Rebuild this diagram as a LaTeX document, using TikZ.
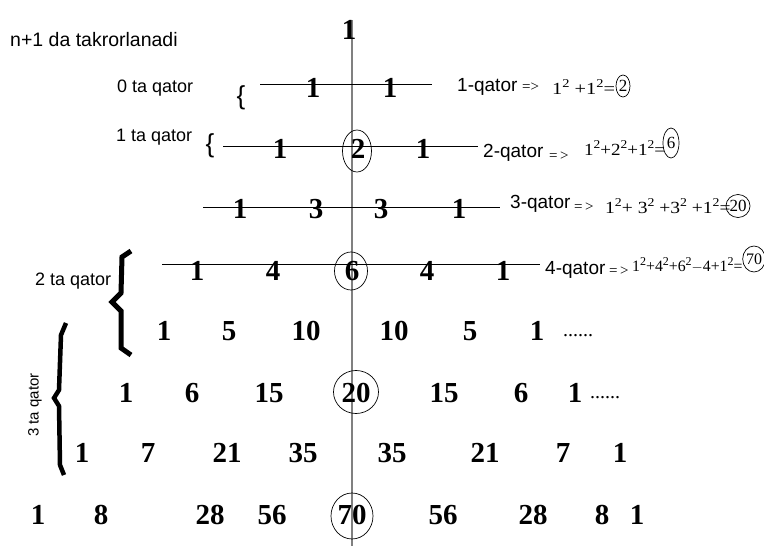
\documentclass[tikz,border=0pt]{standalone}
\usepackage{fontspec}
\setmainfont{Liberation Serif}
\newfontfamily\sansf{Liberation Sans}
\usetikzlibrary{shapes.geometric}
\newcommand\sqtwo{\raisebox{0.38em}{\fontsize{12}{12}\selectfont 2}}
\begin{document}
\begin{tikzpicture}[x=1pt,y=-1pt,
  num/.style={font=\bfseries\fontsize{29}{29}\selectfont, inner sep=0pt},
  lab/.style={font=\sansf\fontsize{18}{18}\selectfont, inner sep=0pt},
  qlab/.style={font=\sansf\fontsize{19}{19}\selectfont, inner sep=0pt, anchor=west},
  arr/.style={font=\fontsize{15}{15}\selectfont, inner sep=0pt, anchor=west},
  frm/.style={font=\fontsize{17}{17}\selectfont, inner sep=0pt, anchor=west},
  ring/.style={draw, ellipse, inner sep=0pt, line width=0.7pt},
  rowline/.style={draw, line width=1pt},
  bigbrace/.style={draw, line width=5pt, line join=miter},
  dots/.style={font=\fontsize{20}{20}\selectfont, inner sep=0pt, anchor=west}]
\useasboundingbox (0,0) rectangle (764,546);
% vertical axis
\coordinate (vt) at (352,20);
\coordinate (vb) at (352,546);
\draw[gray, line width=1.4pt] (vt) -- (vb);
% horizontal lines
\coordinate (h1a) at (260,84); \coordinate (h1b) at (432,84);
\coordinate (h2a) at (223,146); \coordinate (h2b) at (478,146);
\coordinate (h3a) at (203,207); \coordinate (h3b) at (500,207);
\coordinate (h4a) at (162,264); \coordinate (h4b) at (540,264);
\draw[rowline] (h1a) -- (h1b);
\draw[rowline] (h2a) -- (h2b);
\draw[rowline] (h3a) -- (h3b);
\draw[rowline] (h4a) -- (h4b);
% numbers
\node[num] (r0c1) at (349,30) {1};
\foreach \x/\t [count=\i] in {313/1,390/1} \node[num] (r1c\i) at (\x,88) {\t};
\foreach \x/\t [count=\i] in {280/1,358/2,423/1} \node[num] (r2c\i) at (\x,149) {\t};
\foreach \x/\t [count=\i] in {240/1,316/3,381/3,459/1} \node[num] (r3c\i) at (\x,209) {\t};
\foreach \x/\t [count=\i] in {197/1,273/4,352/6,427/4,503/1} \node[num] (r4c\i) at (\x,271) {\t};
\foreach \x/\t [count=\i] in {164/1,229/5,306/10,394/10,470/5,537/1} \node[num] (r5c\i) at (\x,331) {\t};
\foreach \x/\t [count=\i] in {126/1,192/6,269/15,356/20,444/15,521/6,575/1} \node[num] (r6c\i) at (\x,393) {\t};
\foreach \x/\t [count=\i] in {82/1,148/7,227/21,303/35,392/35,485/21,563/7,620/1} \node[num] (r7c\i) at (\x,453) {\t};
\foreach \x/\t [count=\i] in {38/1,101/8,210/28,272/56,352/70,443/56,533/28,602/8,637/1} \node[num] (r8c\i) at (\x,515) {\t};
\node[dots] (d5) at (563,336) {......};
\node[dots] (d6) at (590,398) {......};
% rings in triangle
\node[ring, minimum width=29pt, minimum height=42pt] (o2) at (357,151) {};
\node[ring, minimum width=33pt, minimum height=38pt] (o6) at (351,271) {};
\node[ring, minimum width=45pt, minimum height=43pt] (o20) at (356,392) {};
\node[ring, minimum width=42pt, minimum height=46pt] (o70) at (352,516) {};
% left labels
\node[lab, font=\sansf\fontsize{19.5}{19.5}\selectfont, anchor=west] (title) at (10,40) {n+1 da takrorlanadi};
\node[lab, anchor=west] (q0) at (117,88) {0 ta qator};
\node[lab, anchor=west] (q1) at (116,137) {1 ta qator};
\node[lab, anchor=west] (q2) at (35,281) {2 ta qator};
\node[lab, font=\sansf\fontsize{15}{15}\selectfont, rotate=90] (q3) at (35,405) {3 ta qator};
% small braces
\node[font=\sansf\fontsize{26}{26}\selectfont, inner sep=0pt] (b0) at (241,98) {\{};
\node[font=\sansf\fontsize{26}{26}\selectfont, inner sep=0pt] (b1) at (210,146) {\{};
% big braces
\draw[bigbrace] (131,251) -- (122,257) -- (121,293) -- (112,302) -- (121,311) -- (121,348) -- (131,355);
\draw[bigbrace, line width=4.5pt] (66,323) -- (61,335) -- (59,390) -- (54,398) -- (59,406) -- (60,465) -- (64,475);
% right formulas
\node[qlab] (f1l) at (457,87) {1-qator};
\node[arr] (f1a) at (522,87) {=>};
\node[frm] (f1f) at (552,87) {\scalebox{1.2}[1]{1\sqtwo{} +1\sqtwo=}};
\node[frm, anchor=center, ring, minimum width=14pt, minimum height=22pt] (f1c) at (623,86) {2};

\node[qlab] (f2l) at (483,153) {2-qator};
\node[arr] (f2a) at (549,156) {=\,>};
\node[frm] (f2f) at (584,148) {\scalebox{1.12}[1]{1\sqtwo+2\sqtwo+1\sqtwo=}};
\node[frm, anchor=center, ring, minimum width=16pt, minimum height=30pt] (f2c) at (671,143) {6};

\node[qlab] (f3l) at (510,204) {3-qator};
\node[arr] (f3a) at (574,207) {=\,>};
\node[frm] (f3f) at (605,206) {\scalebox{1.15}[1]{1\sqtwo+ 3\sqtwo{} +3\sqtwo{} +1\sqtwo=}};
\node[frm, anchor=center, ring, minimum width=24pt, minimum height=23pt] (f3c) at (738,206) {20};

\node[qlab] (f4l) at (545,270) {4-qator};
\node[arr] (f4a) at (609,271) {=\,>};
\node[frm, font=\fontsize{15.8}{15.8}\selectfont] (f4f) at (632,265) {1\sqtwo+4\sqtwo+6\sqtwo$-$4+1\sqtwo=};
\node[frm, font=\fontsize{16}{16}\selectfont, anchor=center, ring, minimum width=20pt, minimum height=26pt] (f4c) at (754,259) {70};
\end{tikzpicture}
\end{document}
